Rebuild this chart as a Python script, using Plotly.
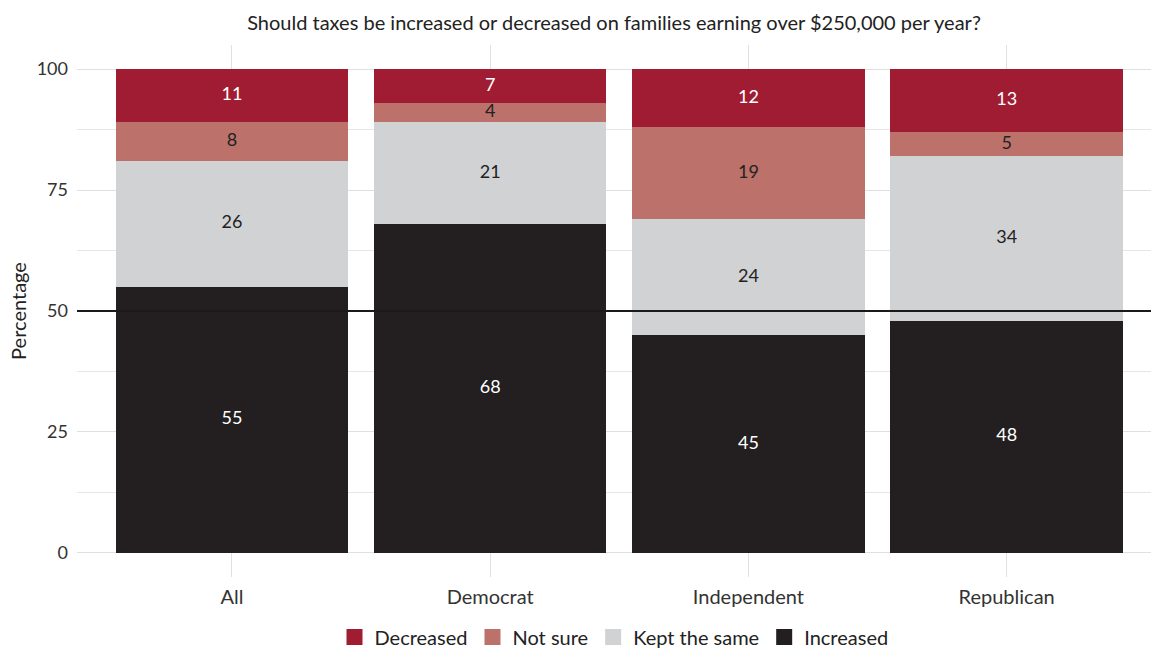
import plotly.graph_objects as go
import numpy as np

categories = ["All", "Democrat", "Independent", "Republican"]
increased = [55, 68, 45, 48]
kept_same = [26, 21, 24, 34]
not_sure = [8, 4, 19, 5]
decreased = [11, 7, 12, 13]

series_names = ["Increased", "Kept the same", "Not sure", "Decreased"]
series_vals = [increased, kept_same, not_sure, decreased]
colors = ["#231F20", "#D1D2D4", "#BC716A", "#A01C33"]
text_colors = ["#FFFFFF", "#222222", "#222222", "#FFFFFF"]

title_text = "Should taxes be increased or decreased on families earning over $250,000 per year?"
FONT = "Lato"

fig = go.Figure()
for name, vals, col in zip(series_names, series_vals, colors):
    fig.add_trace(go.Bar(
        x=categories, y=vals, name=name, marker=dict(color=col, line=dict(width=0)),
        hoverinfo="x+y+name", showlegend=False,
    ))

base = np.zeros(len(categories))
for name, vals, tcol in zip(series_names, series_vals, text_colors):
    v = np.array(vals, dtype=float)
    mids = base + v / 2
    fig.add_trace(go.Scatter(
        x=categories, y=mids, mode="text", text=[str(int(x)) for x in v],
        textfont=dict(family=FONT, size=18, color=tcol), showlegend=False,
        hoverinfo="skip", cliponaxis=False,
    ))
    base = base + v

# legend entries with larger square keys
for name, col in zip(series_names, colors):
    fig.add_trace(go.Scatter(
        x=[None], y=[None], mode="markers", name=name,
        marker=dict(symbol="square", size=16, color=col), showlegend=True,
    ))

fig.add_hline(y=50, line=dict(color="#1a1a1a", width=2), layer="above")

fig.update_layout(
    width=1151, height=650,
    barmode="stack", bargap=0.1,
    paper_bgcolor="white", plot_bgcolor="white",
    margin=dict(l=76.5, r=0, t=45, b=73),
    font=dict(family=FONT, size=18, color="#333333"),
    title=dict(text=title_text, x=0.5, xref="paper", xanchor="center", y=0.965, yanchor="middle",
               font=dict(family=FONT, size=20, color="#222222")),
    legend=dict(orientation="h", x=0.5, xanchor="center", xref="paper",
                y=(650 - 637) / 650, yref="container", yanchor="middle",
                traceorder="reversed", font=dict(family=FONT, size=20, color="#222222"),
                itemsizing="trace", tracegroupgap=0),
    xaxis=dict(range=[-0.6, 3.559], showgrid=True, gridcolor="#E0E0E0", gridwidth=1,
               tickfont=dict(family=FONT, size=20, color="#333333"), ticks="",
               zeroline=False, showline=False, ticklabelstandoff=6),
    yaxis=dict(range=[-5, 105], tickvals=[0, 25, 50, 75, 100], showgrid=True,
               gridcolor="#E0E0E0", gridwidth=1,
               minor=dict(tickvals=[12.5, 37.5, 62.5, 87.5], showgrid=True, gridcolor="#E6E6E6", gridwidth=1),
               tickfont=dict(family=FONT, size=18, color="#333333"), ticks="",
               zeroline=False, showline=False, ticklabelstandoff=8,
               title=dict(text="Percentage", font=dict(family=FONT, size=20, color="#222222"), standoff=4)),
)

fig.write_html("out.html")
